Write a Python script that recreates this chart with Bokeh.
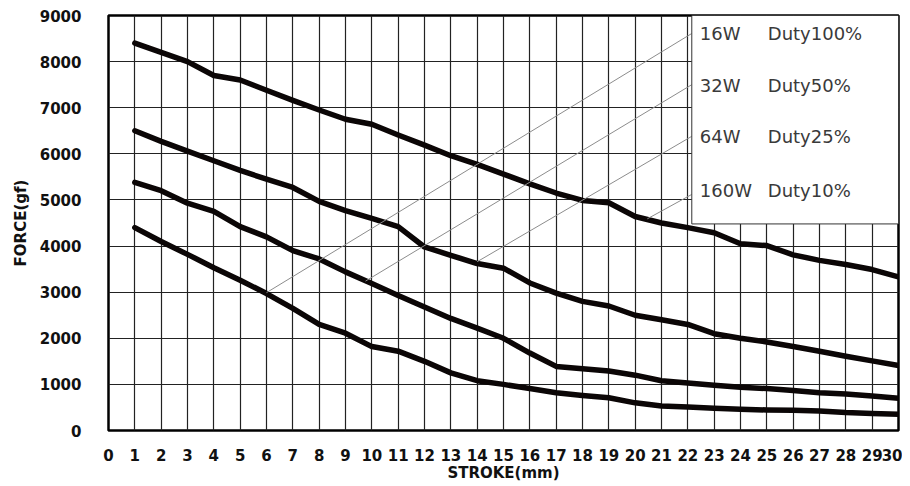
from bokeh.plotting import figure
from bokeh.models import FixedTicker, Range1d
from bokeh.core.properties import value
from bokeh.embed import file_html
from bokeh.resources import INLINE

# ---- data ----
stroke = list(range(1, 31))
force_160w = [8400, 8200, 8000, 7700, 7600, 7380, 7160, 6950, 6750, 6640,
              6410, 6190, 5960, 5770, 5560, 5350, 5150, 4990, 4940, 4640,
              4500, 4400, 4290, 4050, 4010, 3810, 3690, 3600, 3490, 3330]
force_64w = [6500, 6270, 6060, 5850, 5640, 5450, 5270, 4970, 4770, 4600,
             4420, 3980, 3800, 3620, 3520, 3200, 2980, 2800, 2700, 2500,
             2400, 2300, 2100, 2000, 1920, 1820, 1720, 1610, 1510, 1410]
force_32w = [5380, 5200, 4930, 4750, 4420, 4200, 3900, 3720, 3440, 3190,
             2930, 2680, 2430, 2220, 2000, 1680, 1390, 1340, 1290, 1200,
             1080, 1030, 980, 940, 910, 870, 820, 790, 750, 700]
force_16w = [4400, 4100, 3820, 3530, 3260, 2970, 2650, 2300, 2110, 1820,
             1720, 1500, 1250, 1080, 1000, 910, 820, 760, 710, 600,
             530, 510, 480, 460, 445, 440, 425, 390, 370, 350]
curves = [force_160w, force_64w, force_32w, force_16w]

x_ticks = list(range(0, 31))
y_ticks = list(range(0, 9001, 1000))

power_labels = ["16W", "32W", "64W", "160W"]
duty_labels = ["Duty100%", "Duty50%", "Duty25%", "Duty10%"]
label_y = [8620, 7490, 6370, 5200]

leader_x0 = [6.0, 9.76, 14.0, 20.46]
leader_y0 = [2990, 3240, 3660, 4590]
leader_y1 = [8610, 7500, 6380, 5120]

box_left, box_right, box_bottom, box_top = 22.15, 30, 4480, 9000

# ---- figure ----
p = figure(width=902, height=484, x_range=Range1d(0, 30), y_range=Range1d(0, 9000),
           output_backend="svg", toolbar_location=None,
           min_border_left=108, min_border_right=4, min_border_top=15, min_border_bottom=51)
p.background_fill_color = "white"
p.border_fill_color = "white"
p.outline_line_color = "black"
p.outline_line_width = 2.5

p.xaxis.ticker = FixedTicker(ticks=x_ticks)
p.yaxis.ticker = FixedTicker(ticks=y_ticks)
p.xgrid.ticker = FixedTicker(ticks=x_ticks)
p.ygrid.ticker = FixedTicker(ticks=y_ticks)
for g in (p.xgrid, p.ygrid):
    g.grid_line_color = "#222222"
    g.grid_line_alpha = 1.0
    g.grid_line_width = 1.2

for ax in (p.xaxis, p.yaxis):
    ax.axis_line_color = None
    ax.major_tick_line_color = None
    ax.minor_tick_line_color = None
    ax.major_label_text_font = "DejaVu Sans"
    ax.major_label_text_font_style = "bold"
    ax.major_label_text_font_size = "15px"
    ax.major_label_text_color = "#111111"
    ax.axis_label_text_font = "DejaVu Sans"
    ax.axis_label_text_font_style = "bold"
    ax.axis_label_text_font_size = "15px"
    ax.axis_label_text_color = "#111111"

p.xaxis.axis_label = "STROKE(mm)"
p.yaxis.axis_label = "FORCE(gf)"
p.xaxis.major_label_standoff = 12
p.xaxis.axis_label_standoff = 0
p.yaxis.major_label_standoff = 21
p.yaxis.axis_label_standoff = 7

# curves
for c in curves:
    p.line(stroke, c, line_width=5.5, line_color="#0b0606",
           line_join="round", line_cap="round")

# leader lines
p.segment(x0=leader_x0, y0=leader_y0, x1=[box_left] * len(leader_x0), y1=leader_y1,
          line_color="#8c8c8c", line_width=1)

# legend box
p.quad(left=[box_left], right=[box_right], bottom=[box_bottom], top=[box_top],
       fill_color="white", line_color="#333333", line_width=1)

p.text(x=[box_left] * 4, y=label_y, text=power_labels, x_offset=8,
       text_baseline="middle", text_align="left",
       text_font=value("DejaVu Sans"), text_font_size="18px", text_color="#3a3a3a")
p.text(x=[box_left] * 4, y=label_y, text=duty_labels, x_offset=76,
       text_baseline="middle", text_align="left",
       text_font=value("DejaVu Sans"), text_font_size="18px", text_color="#3a3a3a")

open("out.html", "w").write(file_html(p, INLINE))
